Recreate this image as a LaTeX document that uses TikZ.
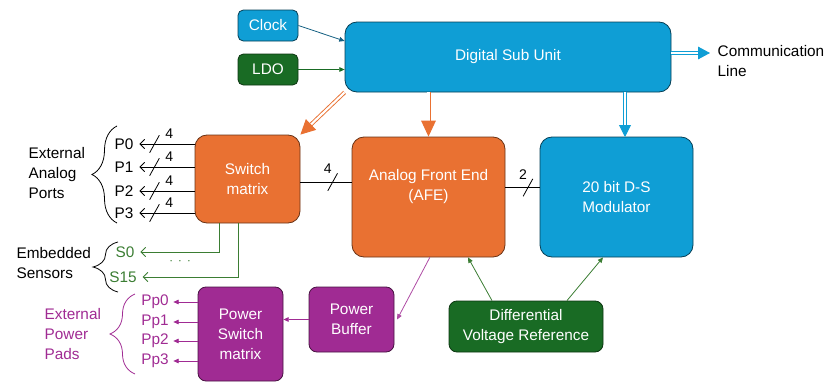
\documentclass[tikz,border=0pt]{standalone}
\usepackage{fontspec}
\setmainfont{Liberation Sans}
\usetikzlibrary{arrows.meta, decorations.pathreplacing}
\definecolor{dblue}{HTML}{0F9ED5}
\definecolor{dorange}{HTML}{E97132}
\definecolor{dgreen}{HTML}{196B24}
\definecolor{dpurple}{HTML}{A02B93}
\definecolor{dteal}{HTML}{156082}
\definecolor{sgreen}{HTML}{3B7D33}
\tikzstyle{box} = [
    rectangle,
    line width=0.6pt,
    text=white,
    align=center,
    rounded corners=9pt,
    font=\fontsize{11.5}{15}\selectfont
]
\tikzstyle{smallbox} = [box, rounded corners=4pt]
\tikzstyle{txt} = [font=\fontsize{11.5}{15}\selectfont, align=left]
\tikzstyle{dblarrow} = [line width=0.7pt, double=white, double distance=1.6pt]
\tikzstyle{thinarrow} = [line width=0.6pt, -{Triangle[length=4pt, width=3.5pt]}]
\tikzstyle{portarrow} = [line width=0.6pt, shorten >=1pt, -{Straight Barb[length=3.5pt, width=7pt]}]
\tikzstyle{busmark} = [draw, rotate=61, minimum width=15pt, minimum height=0pt, inner sep=0pt, line width=0.6pt]
\tikzstyle{buslabel} = [font=\fontsize{10.5}{12}\selectfont, inner sep=0pt]
\tikzstyle{bracket} = [decorate, decoration={brace, amplitude=18.75pt}, line width=0.6pt]

\begin{document}
\begin{tikzpicture}[x=0.75pt, y=-0.75pt]
    \useasboundingbox (0,0) rectangle (833,382);
    % Kästen
    \node (clock) [smallbox, fill=dblue, draw=dblue!40!black, minimum width=45pt, minimum height=23.25pt] at (268,25.5) {Clock};
    \node (ldo) [smallbox, fill=dgreen, draw=dgreen!50!black, minimum width=45pt, minimum height=23.25pt] at (268,69.5) {LDO};
    \node (dsu) [box, fill=dblue, draw=dblue!40!black, minimum width=244.5pt, minimum height=52.5pt] at (508,57) {Digital Sub Unit};
    \node (sw) [box, fill=dorange, draw=dorange!45!black, minimum width=78.75pt, minimum height=66pt] at (247.5,179) {Switch\\matrix};
    \node (afe) [box, fill=dorange, draw=dorange!45!black, minimum width=114.75pt, minimum height=90pt,
        label={[box, yshift=7.5pt]center:Analog Front End\\(AFE)}] at (428.5,197) {};
    \node (mod) [box, fill=dblue, draw=dblue!40!black, minimum width=114.75pt, minimum height=90pt] at (616.5,197) {20 bit D-S\\Modulator};
    \node (dvr) [smallbox, rounded corners=6pt, fill=dgreen, draw=dgreen!50!black, minimum width=115.5pt, minimum height=38.25pt] at (526,326.5) {Differential\\Voltage Reference};
    \node (pbuf) [smallbox, rounded corners=6pt, fill=dpurple, draw=dpurple!45!black, minimum width=63.75pt, minimum height=48.75pt] at (351.5,319.5) {Power\\Buffer};
    \node (psw) [smallbox, rounded corners=6pt, fill=dpurple, draw=dpurple!45!black, minimum width=63.75pt, minimum height=70.5pt] at (240.5,334) {Power\\Switch\\matrix};
    % Beschriftungen
    \node (comm) [txt, anchor=west] at (713,61) {Communication\\Line};
    \coordinate (commin) at (710,53);
    \coordinate (modin) at (625,137);
    \node (portstxt) [txt, anchor=west] at (24,173) {External\\Analog\\Ports};
    \node (senstxt) [txt, anchor=west] at (12,263) {Embedded\\Sensors};
    \node (padstxt) [txt, anchor=west, text=dpurple] at (40,334) {External\\Power\\Pads};
    \node (p0) [txt] at (124,144) {P0};
    \node (p1) [txt] at (124,167) {P1};
    \node (p2) [txt] at (124,191) {P2};
    \node (p3) [txt] at (124,213) {P3};
    \node (s0) [txt, text=sgreen] at (125,252) {S0};
    \node (s15) [txt, text=sgreen] at (123,277) {S15};
    \node (dots) [text=sgreen] at (180,262) {$\cdot\,\cdot\,\cdot$};
    \node (pp0) [txt, text=dpurple] at (155,302) {Pp0};
    \node (pp1) [txt, text=dpurple] at (155,322) {Pp1};
    \node (pp2) [txt, text=dpurple] at (155,341) {Pp2};
    \node (pp3) [txt, text=dpurple] at (155,361) {Pp3};
    % Klammern
    \draw [bracket] (117,223) -- (117,126);
    \draw [bracket] (118,292) -- (118,242);
    \draw [bracket, dpurple] (135,374) -- (135,294);
    % Pfeile
    \draw [thinarrow, dteal] (clock.east) -- ([yshift=12pt]dsu.west);
    \draw [thinarrow, dgreen] (ldo.east) -- (ldo.east -| dsu.west);
    \draw [dblarrow, dblue, -{Triangle[length=9pt, width=9.5pt]}] ([yshift=3pt]dsu.east) -- (commin);
    \draw [dblarrow, dorange, -{Triangle[length=11pt, width=11pt]}] (dsu.south west) -- (sw.north east);
    \draw [dblarrow, dorange, -{Triangle[length=12pt, width=11pt]}] (dsu.south -| afe.north) -- (afe.north);
    \draw [dblarrow, dblue, -{Triangle[length=9pt, width=9pt]}] (dsu.south -| modin) -- (modin);
    \draw [line width=0.6pt] (afe.169 -| sw.east) -- node[pos=.63, busmark] {} node[pos=.63, buslabel, xshift=-3.75pt, yshift=9.75pt] {4} (afe.169);
    \draw [line width=0.6pt] (mod.173 -| afe.east) -- node[pos=.66, busmark] {} node[pos=.66, buslabel, xshift=-3.75pt, yshift=9.75pt] {2} (mod.173);
    \draw [portarrow] (sw.west |- p0) -- node[pos=.71, busmark] {} node[pos=.71, buslabel, xshift=11pt, yshift=7.5pt] {4} (p0.east);
    \draw [portarrow] (sw.west |- p1) -- node[pos=.71, busmark] {} node[pos=.71, buslabel, xshift=11pt, yshift=7.5pt] {4} (p1.east);
    \draw [portarrow] (sw.west |- p2) -- node[pos=.71, busmark] {} node[pos=.71, buslabel, xshift=11pt, yshift=7.5pt] {4} (p2.east);
    \draw [portarrow] (sw.west |- p3) -- node[pos=.71, busmark] {} node[pos=.71, buslabel, xshift=11pt, yshift=7.5pt] {4} (p3.east);
    \draw [portarrow, sgreen] ([xshift=-21.4pt]sw.south) |- (s0.east);
    \draw [portarrow, sgreen] ([xshift=-7.1pt]sw.south) |- (s15.east);
    \draw [thinarrow, dpurple] (psw.west |- pp0) -- (pp0.east);
    \draw [thinarrow, dpurple] (psw.west |- pp1) -- (pp1.east);
    \draw [thinarrow, dpurple] (psw.west |- pp2) -- (pp2.east);
    \draw [thinarrow, dpurple] (psw.west |- pp3) -- (pp3.east);
    \draw [thinarrow, dpurple] (pbuf.west) -- (pbuf.west -| psw.east);
    \draw [thinarrow, dpurple!85!white] ([xshift=1pt]afe.south) -- ([xshift=2pt]pbuf.east);
    \draw [thinarrow, sgreen] ([xshift=-25.5pt]dvr.north) -- ([xshift=29.6pt]afe.south);
    \draw [thinarrow, sgreen] ([xshift=30.75pt]dvr.north) -- ([xshift=-10.1pt]mod.south);
\end{tikzpicture}
\end{document}
